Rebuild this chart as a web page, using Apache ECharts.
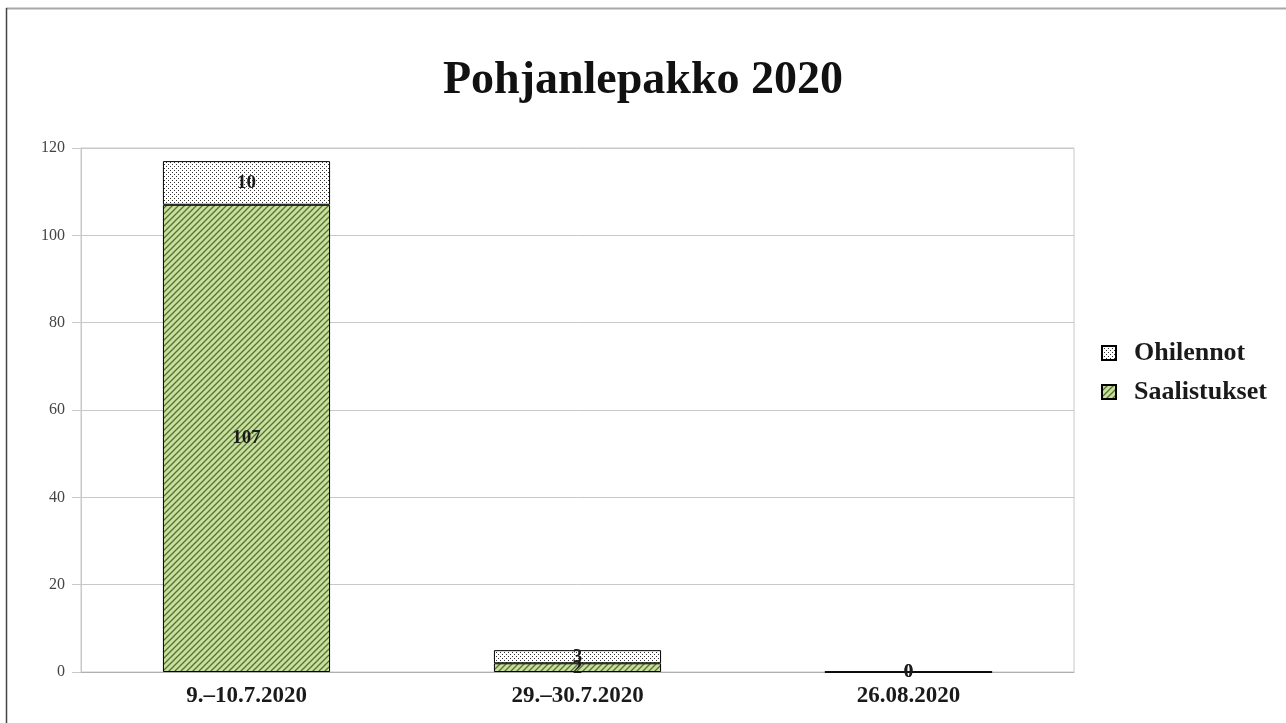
<!DOCTYPE html>
<html><head><meta charset="utf-8">
<script src="https://cdn.jsdelivr.net/npm/echarts@6/dist/echarts.min.js"></script>
<style>html,body{margin:0;padding:0;background:#fff}#c{width:1286px;height:723px}</style>
</head><body><div id="c"></div>
<script>
const categories = ['9.–10.7.2020', '29.–30.7.2020', '26.08.2020'];
const saalistukset = [107, 2, 0];
const ohilennot = [10, 3, 0];
const yTicks = [0, 20, 40, 60, 80, 100, 120];

function stripePattern() {
  const c = document.createElement('canvas');
  c.width = 6; c.height = 6;
  const g = c.getContext('2d');
  g.fillStyle = '#c6e29a';
  g.fillRect(0, 0, 6, 6);
  g.strokeStyle = '#5b6b3c';
  g.lineWidth = 1.3;
  g.beginPath();
  g.moveTo(-1, 7); g.lineTo(7, -1);
  g.moveTo(-4, 4); g.lineTo(4, -4);
  g.moveTo(2, 10); g.lineTo(10, 2);
  g.stroke();
  return c;
}
function dotPattern() {
  const c = document.createElement('canvas');
  c.width = 4; c.height = 4;
  const g = c.getContext('2d');
  g.fillStyle = '#ffffff';
  g.fillRect(0, 0, 4, 4);
  g.fillStyle = '#333333';
  g.fillRect(0, 0, 1, 1);
  g.fillRect(2, 2, 1, 1);
  return c;
}

const chart = echarts.init(document.getElementById('c'));
const labelStyle = {show: true, position: 'inside', fontFamily: 'Liberation Serif', fontWeight: 'bold', fontSize: 19, color: '#1a1a1a'};
chart.setOption({
  backgroundColor: '#ffffff',
  animation: false,
  title: {
    text: 'Pohjanlepakko 2020', left: 'center', top: 53,
    textStyle: {fontFamily: 'Liberation Serif', fontWeight: 'bold', fontSize: 46, color: '#111'}
  },
  legend: {
    orient: 'vertical', left: 1096, top: 335, itemGap: 13, itemWidth: 14, itemHeight: 14,
    data: ['Ohilennot', 'Saalistukset'],
    textStyle: {fontFamily: 'Liberation Serif', fontWeight: 'bold', fontSize: 26, color: '#1a1a1a', padding: [0, 0, 0, 13]},
    icon: 'rect'
  },
  grid: {left: 81, right: 212, top: 148, bottom: 51, show: true, borderColor: '#c8c8c8', borderWidth: 1},
  xAxis: {
    type: 'category', data: categories,
    axisLine: {lineStyle: {color: '#b0b0b0'}},
    axisTick: {show: false},
    axisLabel: {fontFamily: 'Liberation Serif', fontWeight: 'bold', fontSize: 23, color: '#1a1a1a', margin: 13}
  },
  yAxis: {
    type: 'value', min: 0, max: 120, interval: 20,
    axisLine: {show: true, lineStyle: {color: '#c8c8c8'}},
    axisTick: {show: true, length: 9, lineStyle: {color: '#c8c8c8'}},
    axisLabel: {fontFamily: 'Liberation Serif', fontSize: 16, color: '#444', margin: 16,
      formatter: v => yTicks.includes(v) ? String(v) : ''},
    splitLine: {lineStyle: {color: '#c8c8c8'}}
  },
  series: [
    {name: 'Saalistukset', type: 'bar', stack: 't', barWidth: '50.5%', data: saalistukset,
      itemStyle: {color: {image: stripePattern(), repeat: 'repeat'}, borderColor: '#000', borderWidth: 1},
      label: labelStyle},
    {name: 'Ohilennot', type: 'bar', stack: 't', barWidth: '50.5%', data: ohilennot,
      itemStyle: {color: {image: dotPattern(), repeat: 'repeat'}, borderColor: '#000', borderWidth: 1},
      label: labelStyle}
  ],
  graphic: [
    {type: 'line', shape: {x1: 6, y1: 8.5, x2: 1286, y2: 8.5}, style: {stroke: '#a8a8a8', lineWidth: 2}},
    {type: 'line', shape: {x1: 6.5, y1: 8, x2: 6.5, y2: 723}, style: {stroke: '#444', lineWidth: 1.5}}
  ]
});
</script></body></html>
